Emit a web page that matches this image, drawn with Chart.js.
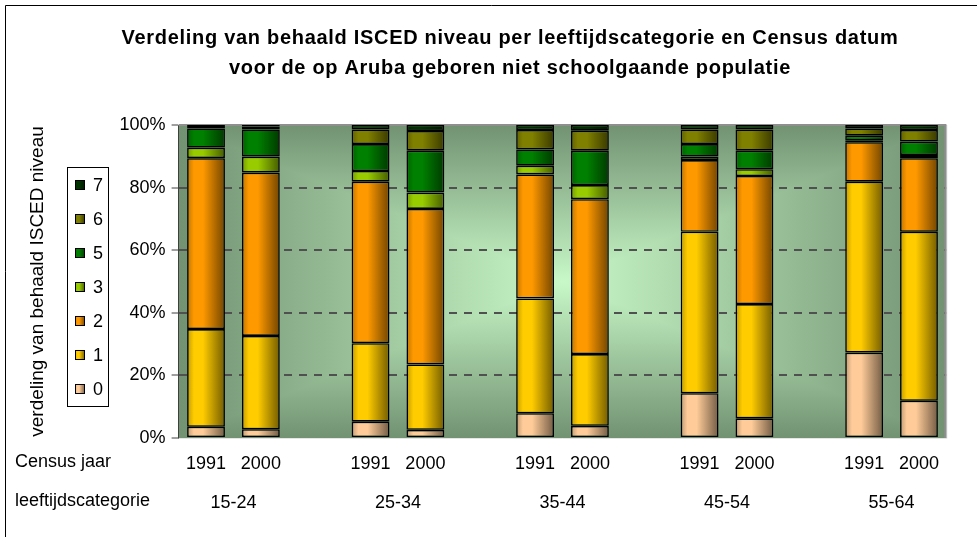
<!DOCTYPE html>
<html>
<head>
<meta charset="utf-8">
<script src="https://cdn.jsdelivr.net/npm/chart.js@4.4.1/dist/chart.umd.min.js"></script>
<style>
  html, body { margin: 0; padding: 0; background: #fff; }
  #wrap { width: 977px; height: 537px; position: relative; }
</style>
</head>
<body>
<div id="wrap"><canvas id="isced-chart" width="977" height="537"></canvas></div>
<script>
// ---- data ----
const censusYears = ["1991", "2000"];
const ageGroups = ["15-24", "25-34", "35-44", "45-54", "55-64"];
const iscedLevels = ["0", "1", "2", "3", "5", "6", "7"];
const levelColors = ["#FFCC99", "#FFCC00", "#FF9900", "#99CC00", "#008000", "#808000", "#003300"];

// share (%) per level, order: 15-24 1991, 15-24 2000, 25-34 1991, 25-34 2000, ...
const level0 = [3.6, 2.8, 5.2, 2.6, 7.9, 3.9, 14.3, 6.3, 27.3, 11.9];
const level1 = [31.2, 29.8, 25.1, 20.9, 36.7, 22.9, 51.6, 36.5, 54.6, 54.0];
const level2 = [54.6, 52.2, 51.6, 49.7, 39.6, 49.5, 22.9, 40.9, 12.6, 23.5];
const level3 = [3.4, 5.1, 3.4, 5.2, 2.8, 4.5, 1.1, 2.2, 0.5, 1.0];
const level5 = [6.1, 8.7, 8.6, 13.4, 5.2, 11.0, 4.0, 5.9, 1.6, 4.3];
const level6 = [0.5, 0.9, 4.7, 6.3, 6.2, 6.4, 4.7, 6.8, 2.3, 3.7];
const level7 = [0.6, 0.5, 1.4, 1.9, 1.6, 1.8, 1.4, 1.4, 1.1, 1.6];

const yTicks = [0, 20, 40, 60, 80, 100];

const BAR_PCT = 0.69;
const FONT = "'Liberation Sans', Arial, sans-serif";

// each age group gets two year slots, with an empty slot between groups
const slotLabels = [];
const groupCentres = [];
ageGroups.forEach((g, gi) => {
  groupCentres.push(slotLabels.length + 0.5);
  censusYears.forEach(y => slotLabels.push(y));
  if (gi < ageGroups.length - 1) slotLabels.push("");
});

function toSlots(values) {
  const out = [];
  let k = 0;
  slotLabels.forEach(l => out.push(l === "" ? null : values[k++]));
  return out;
}

function shade(hex, f) {
  const n = parseInt(hex.slice(1), 16);
  const r = Math.round(((n >> 16) & 255) * f);
  const g = Math.round(((n >> 8) & 255) * f);
  const b = Math.round((n & 255) * f);
  return `rgb(${r},${g},${b})`;
}

function cylinder(ctx, x0, x1, color) {
  const g = ctx.createLinearGradient(x0, 0, x1, 0);
  g.addColorStop(0, shade(color, 0.75));
  g.addColorStop(0.18, color);
  g.addColorStop(0.42, color);
  g.addColorStop(1, shade(color, 0.45));
  return g;
}

// horizontal shading across each bar
function barFill(color) {
  return (c) => {
    const xs = c.chart.scales.x;
    if (!xs || c.type !== "data") return color;
    const cx = xs.getPixelForValue(c.dataIndex);
    const w = (xs.getPixelForValue(1) - xs.getPixelForValue(0)) * BAR_PCT;
    if (!Number.isFinite(cx) || !Number.isFinite(w)) return color;
    return cylinder(c.chart.ctx, cx - w / 2, cx + w / 2, color);
  };
}

const levelData = [level0, level1, level2, level3, level5, level6, level7];

const datasets = iscedLevels.map((lvl, i) => ({
  label: lvl,
  data: toSlots(levelData[i]),
  backgroundColor: barFill(levelColors[i]),
  borderColor: "#000",
  borderWidth: 1.6,
  borderSkipped: false,
  barPercentage: BAR_PCT,
  categoryPercentage: 1
}));

// ---- plugins ----
const plotBackground = {
  id: "plotBackground",
  beforeDraw(chart) {
    const { ctx, chartArea: a } = chart;
    const cx = (a.left + a.right) / 2, cy = (a.top + a.bottom) / 2;
    const parts = [
      [[a.left, a.top], [a.right, a.top], [cx, a.top]],
      [[a.right, a.top], [a.right, a.bottom], [a.right, cy]],
      [[a.right, a.bottom], [a.left, a.bottom], [cx, a.bottom]],
      [[a.left, a.bottom], [a.left, a.top], [a.left, cy]]
    ];
    ctx.save();
    ctx.beginPath();
    ctx.rect(a.left, a.top, a.right - a.left, a.bottom - a.top);
    ctx.clip();
    parts.forEach(([p1, p2, edge]) => {
      const g = ctx.createLinearGradient(cx, cy, edge[0], edge[1]);
      g.addColorStop(0, "#c8f8c8");
      g.addColorStop(1, "#729272");
      ctx.fillStyle = g;
      ctx.strokeStyle = g;
      ctx.lineWidth = 1.5;
      ctx.beginPath();
      ctx.moveTo(cx, cy);
      ctx.lineTo(p1[0], p1[1]);
      ctx.lineTo(p2[0], p2[1]);
      ctx.closePath();
      ctx.fill();
      ctx.stroke();
    });
    ctx.restore();
  },
  beforeDatasetsDraw(chart) {
    const { ctx, chartArea: a } = chart;
    ctx.save();
    ctx.lineWidth = 1;
    ctx.strokeStyle = "#e6e6e6";
    ctx.beginPath();
    ctx.moveTo(a.left, a.bottom + 0.5);
    ctx.lineTo(a.right + 0.5, a.bottom + 0.5);
    ctx.lineTo(a.right + 0.5, a.top);
    ctx.stroke();
    ctx.strokeStyle = "#8f8f8f";
    ctx.lineWidth = 2;
    ctx.beginPath();
    ctx.moveTo(a.left, a.top);
    ctx.lineTo(a.right - 1, a.top);
    ctx.lineTo(a.right - 1, a.bottom);
    ctx.stroke();
    ctx.restore();
  }
};

const chartText = {
  id: "chartText",
  afterDraw(chart, args, opts) {
    const ctx = chart.ctx;
    ctx.save();
    // frame
    ctx.strokeStyle = "#000";
    ctx.lineWidth = 1;
    ctx.beginPath();
    ctx.moveTo(5.5, chart.height);
    ctx.lineTo(5.5, 5.5);
    ctx.lineTo(chart.width, 5.5);
    ctx.stroke();

    // title
    ctx.fillStyle = "#000";
    ctx.textAlign = "center";
    ctx.textBaseline = "middle";
    ctx.font = "bold 20px " + FONT;
    ctx.letterSpacing = "0.7px";
    opts.title.forEach((line, i) => ctx.fillText(line, opts.titleX, opts.titleY + i * opts.titleStep));
    ctx.letterSpacing = "0px";

    // row captions left of the x labels
    ctx.textAlign = "left";
    ctx.font = "18px " + FONT;
    opts.rowCaptions.forEach((t, i) => ctx.fillText(t, 15, opts.rowY[i]));

    // legend, top level first
    const L = opts.legend;
    ctx.fillStyle = "#fff";
    ctx.fillRect(L.x, L.y, L.w, L.h);
    ctx.strokeRect(L.x + 0.5, L.y + 0.5, L.w, L.h);
    const sets = chart.data.datasets.map((d, i) => ({ label: d.label, color: levelColors[i] })).reverse();
    sets.forEach((s, i) => {
      const cy = L.firstY + i * L.step;
      ctx.fillStyle = cylinder(ctx, L.x + 8, L.x + 18, s.color);
      ctx.fillRect(L.x + 8, cy - 5, 10, 10);
      ctx.strokeStyle = "#000";
      ctx.strokeRect(L.x + 8.5, cy - 4.5, 9, 9);
      ctx.fillStyle = "#000";
      ctx.fillText(s.label, L.x + 26, cy + 1);
    });
    ctx.restore();
  }
};

// ---- chart ----
new Chart(document.getElementById("isced-chart"), {
  type: "bar",
  data: { labels: slotLabels, datasets },
  plugins: [plotBackground, chartText],
  options: {
    responsive: false,
    animation: false,
    layout: { padding: { top: 125, right: 30.6, bottom: 10, left: 0 } },
    plugins: {
      legend: { display: false },
      tooltip: { enabled: false },
      chartText: {
        title: [
          "Verdeling van behaald ISCED niveau per leeftijdscategorie en Census datum",
          "voor de op Aruba geboren niet schoolgaande populatie"
        ],
        titleX: 510,
        titleY: 38,
        titleStep: 30,
        rowCaptions: ["Census jaar", "leeftijdscategorie"],
        rowY: [462, 501],
        legend: { x: 67, y: 167, w: 41, h: 239, firstY: 185, step: 34 }
      }
    },
    scales: {
      x: {
        stacked: true,
        offset: true,
        weight: 0,
        grid: { display: false },
        border: { display: false },
        ticks: {
          autoSkip: false,
          maxRotation: 0,
          padding: 7,
          color: "#000",
          font: { family: FONT, size: 18 }
        },
        afterFit: (s) => { s.height = 35; }
      },
      age: {
        type: "linear",
        position: "bottom",
        weight: 1,
        offset: false,
        min: -0.5,
        max: slotLabels.length - 0.5,
        grid: { display: false },
        border: { display: false },
        afterBuildTicks: (s) => { s.ticks = groupCentres.map(v => ({ value: v })); },
        ticks: {
          autoSkip: false,
          maxRotation: 0,
          padding: 11,
          color: "#000",
          font: { family: FONT, size: 18 },
          callback: (v, i) => ageGroups[i]
        },
        afterFit: (s) => { s.height = 54; }
      },
      y: {
        stacked: true,
        min: 0,
        max: 100,
        afterBuildTicks: (s) => { s.ticks = yTicks.map(v => ({ value: v })); },
        title: {
          display: true,
          text: "verdeling van behaald ISCED niveau",
          color: "#000",
          font: { family: FONT, size: 19 },
          padding: { top: 26, bottom: 0 }
        },
        grid: {
          color: (c) => (c.tick && (c.tick.value === 0 || c.tick.value === 100)) ? "rgba(0,0,0,0)" : "#505050",
          lineWidth: 2,
          tickLength: 7,
          tickColor: "#404040",
          tickWidth: 1
        },
        border: { display: true, color: "#404040", width: 1, dash: [8, 7] },
        ticks: {
          padding: 6,
          color: "#000",
          font: { family: FONT, size: 18 },
          callback: (v) => v + "%"
        },
        afterFit: (s) => { s.width = 178.6; }
      }
    }
  }
});
</script>
</body>
</html>
